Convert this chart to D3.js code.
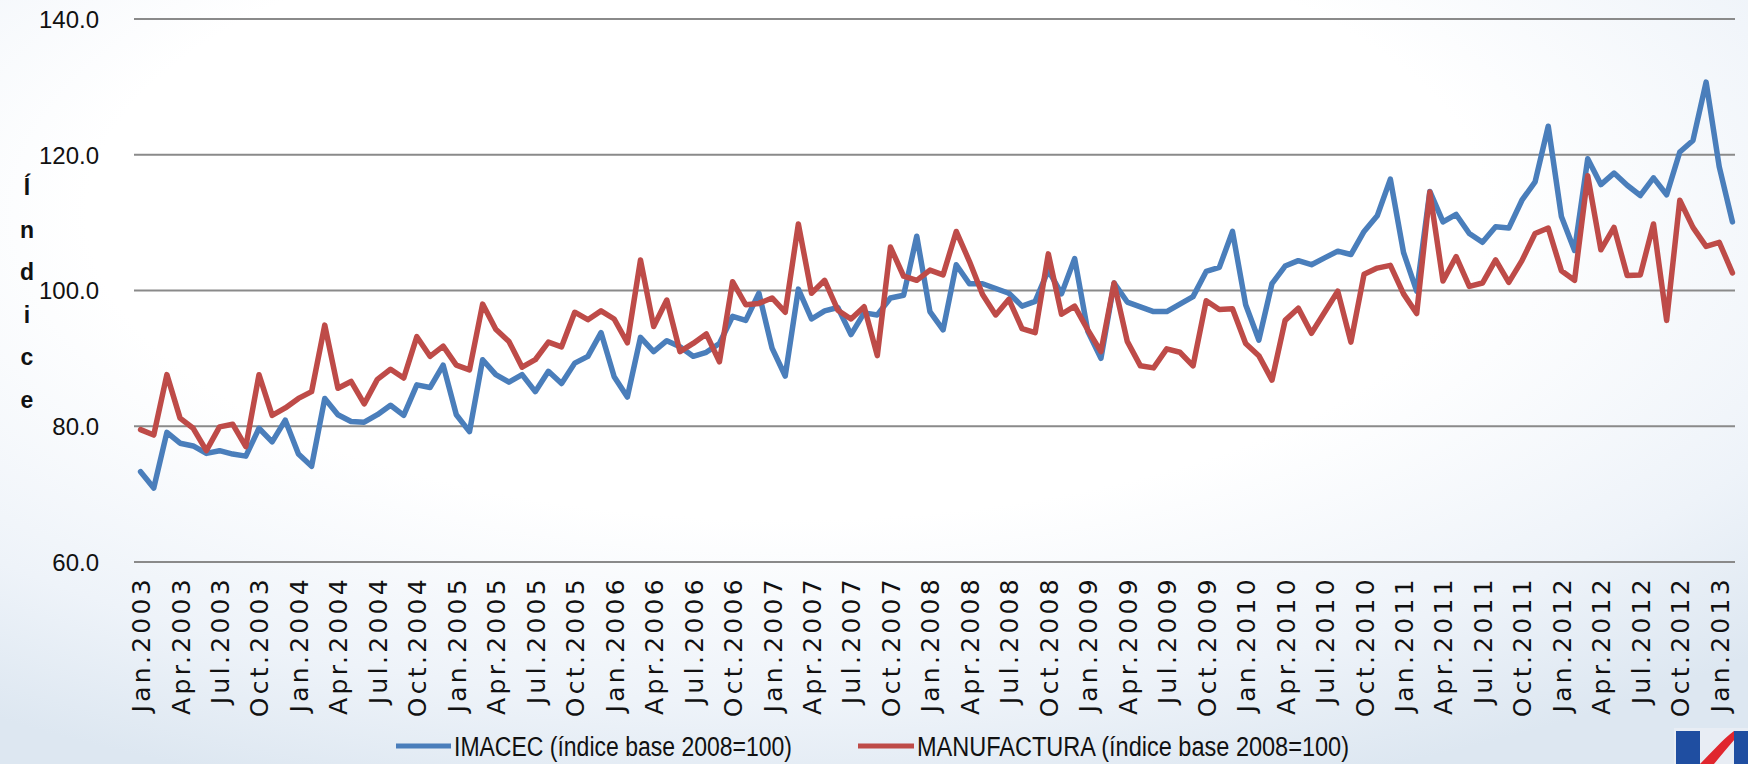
<!DOCTYPE html>
<html>
<head>
<meta charset="utf-8">
<script src="https://cdn.jsdelivr.net/npm/d3@7"></script>
<style>
  html, body { margin: 0; padding: 0; background: #ffffff; }
  svg { display: block; }
</style>
</head>
<body>
<svg id="chart" width="1748" height="764"></svg>
<script>
// ---------------- DATA ----------------
const monthNames = ["Jan.", "Feb.", "Mar.", "Apr.", "May.", "Jun.", "Jul.", "Aug.", "Sep.", "Oct.", "Nov.", "Dec."];
const startYear = 2003;
const nMonths = 122; // Jan.2003 .. Feb.2013
const categories = d3.range(nMonths).map(i => monthNames[i % 12] + (startYear + Math.floor(i / 12)));

const imacec = [
  73.3, 70.9, 79.1, 77.5, 77.1, 76.0, 76.4, 75.9, 75.6, 79.7, 77.7, 80.9,
  75.9, 74.1, 84.1, 81.7, 80.7, 80.6, 81.7, 83.1, 81.6, 86.1, 85.7, 89.0,
  81.7, 79.2, 89.8, 87.6, 86.5, 87.6, 85.1, 88.1, 86.3, 89.3, 90.3, 93.8,
  87.3, 84.3, 93.1, 91.0, 92.6, 91.7, 90.3, 90.9, 92.2, 96.2, 95.6, 99.6,
  91.5, 87.4, 100.2, 95.8, 97.0, 97.5, 93.5, 96.7, 96.4, 98.9, 99.3, 108.0,
  96.9, 94.2, 103.8, 101.0, 101.0, 100.3, 99.6, 97.7, 98.4, 103.0, 99.5, 104.7,
  94.0, 90.0, 101.1, 98.3, 97.6, 96.9, 96.9, 98.0, 99.1, 102.8, 103.4, 108.7,
  97.9, 92.7, 101.0, 103.6, 104.4, 103.8, 104.8, 105.8, 105.3, 108.7, 111.0, 116.4,
  105.6, 99.9, 114.6, 110.1, 111.2, 108.4, 107.1, 109.4, 109.2, 113.3, 116.0, 124.2,
  110.9, 105.9, 119.4, 115.6, 117.3, 115.5, 114.0, 116.6, 114.1, 120.4, 122.1, 130.7,
  118.2, 110.1
];

const manufactura = [
  79.5, 78.7, 87.6, 81.2, 79.7, 76.4, 79.9, 80.3, 77.0, 87.6, 81.6, 82.7,
  84.1, 85.1, 94.9, 85.6, 86.6, 83.3, 86.9, 88.4, 87.1, 93.2, 90.3, 91.8,
  89.0, 88.3, 98.0, 94.3, 92.5, 88.7, 89.8, 92.4, 91.7, 96.8, 95.7, 97.0,
  95.8, 92.3, 104.5, 94.7, 98.6, 91.0, 92.2, 93.6, 89.5, 101.3, 97.9, 98.1,
  98.9, 96.8, 109.8, 99.6, 101.5, 97.1, 95.8, 97.6, 90.4, 106.4, 102.1, 101.5,
  103.0, 102.3, 108.7, 104.3, 99.4, 96.4, 98.7, 94.4, 93.8, 105.4, 96.5, 97.7,
  94.2, 91.0, 101.1, 92.5, 88.9, 88.6, 91.4, 90.9, 88.9, 98.5, 97.2, 97.3,
  92.2, 90.4, 86.8, 95.6, 97.4, 93.7, 96.8, 99.9, 92.4, 102.4, 103.3, 103.7,
  99.5, 96.6, 114.5, 101.4, 105.0, 100.6, 101.1, 104.5, 101.2, 104.4, 108.4, 109.2,
  102.9, 101.5, 116.9, 106.0, 109.3, 102.2, 102.3, 109.8, 95.6, 113.3, 109.3, 106.5,
  107.1, 102.6
];

const yTicks = [60, 80, 100, 120, 140];
const seriesNames = ["IMACEC (índice base 2008=100)", "MANUFACTURA (índice base 2008=100)"];
const seriesColors = ["#4A7EBB", "#BE4B48"];
const yTitle = "Índice";

// ---------------- CHART ----------------
const W = 1748, H = 764;
const svg = d3.select("#chart");

// background
const defs = svg.append("defs");
const rg = defs.append("radialGradient").attr("id", "bg")
  .attr("cx", "0.45").attr("cy", "0.28").attr("r", "0.8");
rg.append("stop").attr("offset", "0.5").attr("stop-color", "#ffffff");
rg.append("stop").attr("offset", "0.8").attr("stop-color", "#eef3f9");
rg.append("stop").attr("offset", "1").attr("stop-color", "#dde7f1");
svg.append("rect").attr("width", W).attr("height", H).attr("fill", "url(#bg)");

const plotLeft = 134, plotRight = 1739, plotTop = 19, plotBottom = 562;

const x = d3.scalePoint().domain(d3.range(nMonths)).range([plotLeft, plotRight]).padding(0.5);
const y = d3.scaleLinear().domain([60, 140]).range([plotBottom, plotTop]);

// gridlines
svg.append("g").selectAll("line").data(yTicks).join("line")
  .attr("x1", plotLeft).attr("x2", plotRight - 4)
  .attr("y1", d => y(d)).attr("y2", d => y(d))
  .attr("stroke", "#8a8a8a").attr("stroke-width", 2);

// y axis labels
const yAxis = d3.axisLeft(y).tickValues(yTicks).tickFormat(d3.format(".1f")).tickSize(0).tickPadding(0);
const gy = svg.append("g").attr("transform", `translate(99,0)`).call(yAxis);
gy.select(".domain").remove();
gy.selectAll("text")
  .attr("font-family", "'Liberation Sans', Arial, sans-serif")
  .attr("font-size", 24).attr("fill", "#111").attr("dy", "0.35em");

// y title: stacked letters
svg.append("g").selectAll("text").data(yTitle.split("")).join("text")
  .attr("x", 27).attr("y", (d, i) => 195 + i * 42.5)
  .attr("text-anchor", "middle")
  .attr("font-family", "'Liberation Sans', Arial, sans-serif")
  .attr("font-weight", "bold").attr("font-size", 23).attr("fill", "#111")
  .text(d => d);

// x axis labels
const xAxis = d3.axisBottom(x)
  .tickValues(d3.range(0, nMonths, 3))
  .tickFormat(i => categories[i]).tickSize(0).tickPadding(0);
const gx = svg.append("g").attr("transform", `translate(0,${plotBottom + 14})`).call(xAxis);
gx.select(".domain").remove();
gx.selectAll("text")
  .attr("font-family", "'DejaVu Sans', Verdana, sans-serif")
  .attr("font-size", 25).attr("fill", "#111")
  .attr("letter-spacing", "3.3px")
  .attr("text-anchor", "end")
  .attr("transform", "rotate(-90)")
  .attr("x", 0).attr("y", 0).attr("dy", "0.36em");

// lines
const line = d3.line().x((d, i) => x(i)).y(d => y(d));
[imacec, manufactura].forEach((s, k) => {
  svg.append("path").datum(s)
    .attr("fill", "none").attr("stroke", seriesColors[k])
    .attr("stroke-width", 5.5).attr("stroke-linejoin", "round").attr("stroke-linecap", "round")
    .attr("d", line);
});

// legend
const legend = [
  { x1: 396, x2: 451, tx: 454, len: 338 },
  { x1: 858, x2: 914, tx: 917, len: 432 }
];
const lg = svg.append("g");
legend.forEach((l, k) => {
  lg.append("line").attr("x1", l.x1).attr("x2", l.x2).attr("y1", 746).attr("y2", 746)
    .attr("stroke", seriesColors[k]).attr("stroke-width", 5);
  lg.append("text").attr("x", l.tx).attr("y", 756)
    .attr("font-family", "'Liberation Sans Narrow', 'Liberation Sans', Arial, sans-serif")
    .attr("font-size", 27).attr("fill", "#111")
    .attr("textLength", l.len).attr("lengthAdjust", "spacingAndGlyphs")
    .text(seriesNames[k]);
});

// logo (partially visible, bottom-right)
const logo = svg.append("g");
logo.append("rect").attr("x", 1674).attr("y", 728).attr("width", 74).attr("height", 36).attr("fill", "#e8edf4");
logo.append("rect").attr("x", 1676).attr("y", 731).attr("width", 24).attr("height", 33).attr("fill", "#1f4ea1");
logo.append("path").attr("d", "M1700,764 C1712,752 1722,740 1734,731 L1742,731 C1732,742 1722,754 1714,764 Z").attr("fill", "#e0262e");
logo.append("rect").attr("x", 1734).attr("y", 731).attr("width", 14).attr("height", 33).attr("fill", "#1f4ea1");
</script>
</body>
</html>
